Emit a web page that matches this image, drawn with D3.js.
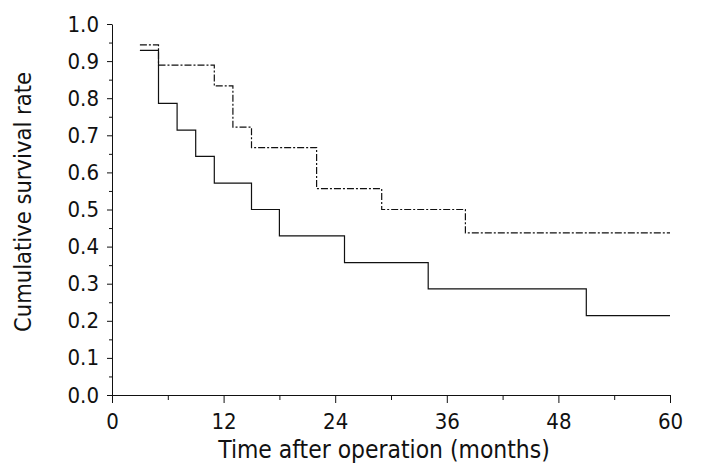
<!DOCTYPE html>
<html>
<head>
<meta charset="utf-8">
<script src="https://cdn.jsdelivr.net/npm/d3@7"></script>
<style>
  body { margin: 0; background: #fff; }
  text { font-family: "DejaVu Sans Condensed", "DejaVu Sans", sans-serif; fill: #111; }
</style>
</head>
<body>
<svg id="chart" width="701" height="476"></svg>
<script>
// survival curves (Kaplan-Meier steps), time in months
const solidTimes = [3, 5, 7, 9, 11, 15, 18, 25, 34, 51, 60]
const solidSurv  = [0.929, 0.786, 0.714, 0.643, 0.571, 0.5, 0.429, 0.357, 0.286, 0.214, 0.214]

const dashTimes = [3, 5, 11, 13, 15, 22, 29, 38, 60]
const dashSurv  = [0.944, 0.889, 0.833, 0.722, 0.667, 0.556, 0.5, 0.437, 0.437]

const xTicks = [0, 12, 24, 36, 48, 60]
const xMinor = [6, 18, 30, 42, 54]
const yTicks = [0, 0.1, 0.2, 0.3, 0.4, 0.5, 0.6, 0.7, 0.8, 0.9, 1.0]
const yMinor = [0.05, 0.15, 0.25, 0.35, 0.45, 0.55, 0.65, 0.75, 0.85, 0.95]

const xTitle = 'Time after operation (months)'
const yTitle = 'Cumulative survival rate'

let margin = {left: 112, top: 24, right: 31, bottom: 81}
let width  = 701 - margin.left - margin.right
let height = 476 - margin.top - margin.bottom

let svg = d3.select('#chart')
let g = svg.append('g')
  .attr('transform', 'translate(' + [margin.left, margin.top] + ')')

let x = d3.scaleLinear().domain([0, 60]).range([0, width])
let y = d3.scaleLinear().domain([0, 1]).range([height, 0])

// minor ticks first, then the main axes on top
g.append('g')
  .attr('transform', 'translate(0,' + height + ')')
  .call(d3.axisBottom(x).tickValues(xMinor).tickSize(5).tickFormat(''))
  .call(a => a.select('.domain').remove())

g.append('g')
  .call(d3.axisLeft(y).tickValues(yMinor).tickSize(3).tickFormat(''))
  .call(a => a.select('.domain').remove())

let xAxis = g.append('g')
  .attr('transform', 'translate(0,' + height + ')')
  .call(d3.axisBottom(x).tickValues(xTicks).tickSize(8).tickSizeOuter(0).tickPadding(10))

xAxis.selectAll('text').style('font-size', '22px')

let yAxis = g.append('g')
  .call(d3.axisLeft(y).tickValues(yTicks).tickSize(5).tickSizeOuter(0).tickPadding(8).tickFormat(d3.format('.1f')))

yAxis.selectAll('text').style('font-size', '22px')

svg.selectAll('.tick line, .domain').attr('stroke', '#111')

let line = d3.line()
  .x(d => x(d[0]))
  .y(d => y(d[1]))
  .curve(d3.curveStepAfter)

g.append('path')
  .datum(d3.zip(solidTimes, solidSurv))
  .attr('fill', 'none')
  .attr('stroke', '#111')
  .attr('stroke-width', 1.2)
  .attr('d', line)

g.append('path')
  .datum(d3.zip(dashTimes, dashSurv))
  .attr('fill', 'none')
  .attr('stroke', '#111')
  .attr('stroke-width', 1.2)
  .attr('stroke-dasharray', '7,2,2,2')
  .attr('d', line)

// axis titles
svg.append('text')
  .attr('x', 384)
  .attr('y', 458)
  .attr('text-anchor', 'middle')
  .style('font-size', '24.4px')
  .text(xTitle)

svg.append('text')
  .attr('transform', 'translate(31,202) rotate(-90)')
  .attr('text-anchor', 'middle')
  .style('font-size', '23.5px')
  .text(yTitle)
</script>
</body>
</html>
